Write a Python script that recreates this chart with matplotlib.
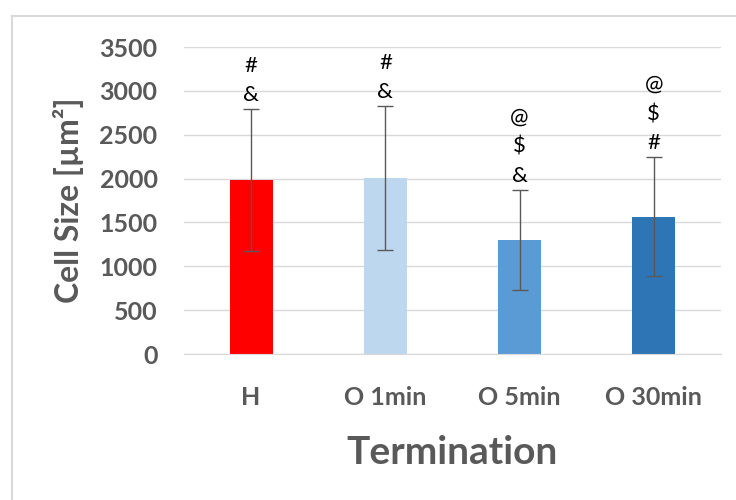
import matplotlib
matplotlib.use('Agg')
import matplotlib.pyplot as plt
from matplotlib.lines import Line2D

plt.rcParams['font.family'] = ['Lato', 'DejaVu Sans']

# data
groups = ['H', 'O 1min', 'O 5min', 'O 30min']
mean_size = [1980, 2010, 1300, 1565]
sd_size = [810, 820, 575, 680]
marks = [['&', '#'], ['&', '#'], ['&', '$', '@'], ['#', '$', '@']]
colors = ['#FF0000', '#BDD7EE', '#5B9BD5', '#2E75B6']
yticks = [0, 500, 1000, 1500, 2000, 2500, 3000, 3500]

fig = plt.figure(figsize=(7.36, 5), dpi=100)
ax = fig.add_axes([0.25, 0.292, 0.7296, 0.614])

x = range(len(groups))
ax.bar(x, mean_size, width=0.32, color=colors, zorder=2)
ax.errorbar(x, mean_size, yerr=sd_size, fmt='none', ecolor='#595959',
            elinewidth=1, capsize=6, capthick=1, zorder=3)

# significance symbols stacked above the error bars
for i in x:
    top = mean_size[i] + sd_size[i]
    for k, m in enumerate(marks[i]):
        ax.annotate(m, (i, top), xytext=(0, 10 + 21 * k), textcoords='offset points',
                    ha='center', va='center', fontsize=16, color='black')

ax.set_xlim(-0.5, 3.5)
ax.set_ylim(0, 3500)
ax.set_yticks(yticks)
ax.set_xticks(list(x))
ax.set_xticklabels(groups)
ax.yaxis.grid(True, color='#D9D9D9', lw=1, zorder=0)
ax.set_axisbelow(True)
for s in ['top', 'right', 'left']:
    ax.spines[s].set_visible(False)
ax.spines['bottom'].set_color('#D9D9D9')
ax.tick_params(length=0, labelsize=18, labelcolor='#595959')
ax.tick_params(axis='x', pad=23)
ax.tick_params(axis='y', pad=19)
for lab in ax.get_xticklabels() + ax.get_yticklabels():
    lab.set_fontweight('bold')

ax.set_ylabel('Cell Size [µm²]', fontsize=23, fontweight='bold', color='#595959', labelpad=11)
ax.set_xlabel('Termination', fontsize=28, fontweight='bold', color='#595959', labelpad=19)

# chart-area frame (top and left visible)
fig.add_artist(Line2D([0.016, 1.0], [0.968, 0.968], transform=fig.transFigure, color='#D9D9D9', lw=1.5))
fig.add_artist(Line2D([0.016, 0.016], [0.0, 0.968], transform=fig.transFigure, color='#D9D9D9', lw=1.5))

fig.savefig('out.png', dpi=100)
